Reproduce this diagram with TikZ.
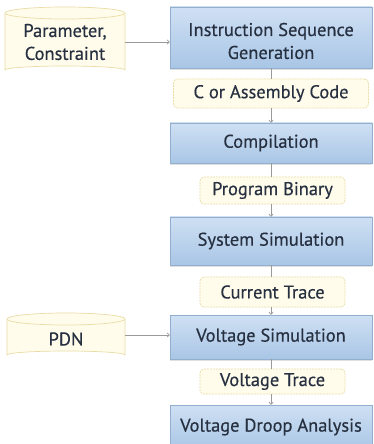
\documentclass[tikz,border=0pt]{standalone}
\usepackage{fontspec}
\setmainfont[FakeBold=0.4,AutoFakeBold=0.4]{PT Sans}
\usetikzlibrary{arrows.meta,shadows}
\definecolor{bluetop}{HTML}{CFE0F3}
\definecolor{bluebot}{HTML}{A9C6E6}
\definecolor{blueline}{HTML}{93AFCF}
\definecolor{cream}{HTML}{FFFCEB}
\definecolor{creamline}{HTML}{E9DCA6}
\definecolor{txt}{HTML}{263040}
\definecolor{conn}{HTML}{9A9A9A}
\tikzset{
  procbox/.style={draw=blueline, line width=0.6bp, top color=bluetop, bottom color=bluebot,
    minimum width=202bp, inner sep=0pt, align=center, text=txt, font=\fontsize{18.5}{23}\selectfont\bfseries,
    drop shadow={shadow xshift=0bp, shadow yshift=-2bp, opacity=0.25}},
  databox/.style={draw=creamline, line width=0.7bp, dash pattern=on 2bp off 1bp, fill=cream,
    rounded corners=4bp, inner sep=0pt, align=center, text=txt, font=\fontsize{18.5}{23}\selectfont\bfseries},
  cylbody/.style={draw=creamline, line width=0.7bp, fill=cream},
  cyltext/.style={text=txt, align=center, font=\fontsize{18.5}{23}\selectfont\bfseries, inner sep=0pt},
  plaintext/.style={text=txt, align=center, font=\fontsize{18.5}{23}\selectfont\bfseries, inner sep=0pt},
  conline/.style={draw=conn, line width=0.7bp},
  conarrow/.style={conline, -{To[length=3bp,width=5bp]}}
}
\begin{document}
\begin{tikzpicture}[x=1bp,y=-1bp]
\useasboundingbox[fill=white] (0,0) rectangle (373,444);
% cylinders
\path[cylbody] (5,13) -- (5,70) arc[start angle=180,end angle=360,x radius=60,y radius=4] -- (125,13)
  arc[start angle=0,end angle=180,x radius=60,y radius=-6] -- cycle;
\path[cylbody] (5,13) arc[start angle=180,end angle=360,x radius=60,y radius=-6];
\node[cyltext] (param) at (65,42) {Parameter,\\Constraint};
\coordinate (paramR) at (125,42);

\path[cylbody] (7,319) -- (7,355) arc[start angle=180,end angle=360,x radius=59,y radius=4] -- (125,319)
  arc[start angle=0,end angle=180,x radius=59,y radius=-6] -- cycle;
\path[cylbody] (7,319) arc[start angle=180,end angle=360,x radius=59,y radius=-6];
\node[cyltext] (pdn) at (66,339) {PDN};
\coordinate (pdnR) at (125,335);

% process boxes
\node[procbox, minimum height=61bp] (isg) at (271,37.5) {};
\node[plaintext] (isgtext) at (271,41) {Instruction Sequence\\Generation};
\node[procbox, minimum height=40bp] (comp) at (271,143) {Compilation};
\node[procbox, minimum height=48bp] (sys) at (271,241) {System Simulation};
\node[procbox, minimum height=44bp] (vsim) at (271,337) {Voltage Simulation};
\node[procbox, minimum height=44bp] (vda) at (271,427) {Voltage Droop Analysis};

% data boxes
\node[databox, minimum width=195bp, minimum height=29bp] (code) at (271,93.5) {C or Assembly Code};
\node[databox, minimum width=145bp, minimum height=27bp] (bin) at (272.5,190.5) {Program Binary};
\node[databox, minimum width=145bp, minimum height=30bp] (cur) at (272.5,292) {Current Trace};
\node[databox, minimum width=145bp, minimum height=25bp] (vtr) at (272.5,381.5) {Voltage Trace};

% connectors
\draw[conarrow] (paramR) -- (paramR -| isg.west);
\draw[conarrow] (pdnR) -- (pdnR -| vsim.west);
\draw[conline] (isg.south) -- (code.north);
\draw[conarrow] (code.south) -- (comp.north);
\draw[conline] (comp.south) -- (bin.north -| comp.south);
\draw[conarrow] (bin.south -| comp.south) -- (sys.north);
\draw[conline] (sys.south) -- (cur.north -| sys.south);
\draw[conarrow] (cur.south -| sys.south) -- (vsim.north);
\draw[conline] (vsim.south) -- (vtr.north -| vsim.south);
\draw[conarrow] (vtr.south -| vsim.south) -- (vda.north);
\end{tikzpicture}
\end{document}
